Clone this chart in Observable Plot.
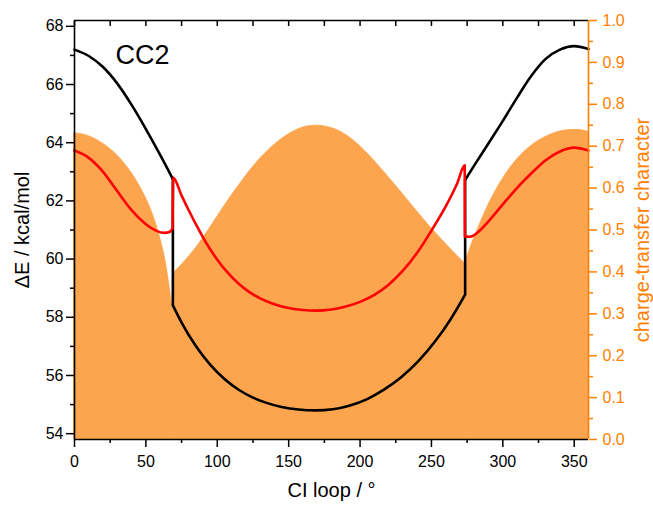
<!DOCTYPE html>
<html>
<head>
<meta charset="utf-8">
<script src="https://cdn.jsdelivr.net/npm/d3@7"></script>
<script src="https://cdn.jsdelivr.net/npm/@observablehq/plot@0.6"></script>
<style>
  body { margin: 0; background: #fff; }
  #chart svg { display: block; }
</style>
</head>
<body>
<div id="chart"></div>
<script>
// Excitation energies along the conical-intersection loop (CC2).
// A repeated angle marks a discontinuity (the curve jumps at that angle).
const s1Angle  = [0, 10, 20, 30, 40, 50, 60, 68.9,
                  68.9, 75, 85, 95, 105, 115, 125, 135, 145, 157, 169, 181, 193, 205, 217, 229, 241, 253, 263, 273.6,
                  273.6, 280, 290, 300, 310, 320, 330, 340, 350, 360];
const s1Energy = [67.2, 66.98, 66.6, 66.03, 65.3, 64.47, 63.58, 62.75,
                  58.41, 57.82, 57.01, 56.37, 55.88, 55.51, 55.24, 55.05, 54.92, 54.83, 54.8, 54.84, 54.97, 55.19, 55.52, 55.95, 56.5, 57.2, 57.9, 58.78,
                  62.72, 63.22, 63.98, 64.75, 65.55, 66.3, 66.88, 67.2, 67.32, 67.22];

const s2Angle  = [0, 10, 20, 30, 40, 50, 57, 63, 66.5, 68.6,
                  69.1, 75, 80, 85, 90, 95, 100, 107, 115, 122, 130, 140, 150, 160, 169, 180, 190, 200, 210, 220, 230, 240, 250, 260, 268, 273.3,
                  273.4, 277, 282, 290, 300, 310, 320, 330, 340, 350, 360];
const s2Energy = [63.73, 63.48, 63.0, 62.33, 61.68, 61.2, 60.98, 60.9, 60.93, 61.05,
                  62.8, 62.18, 61.68, 61.2, 60.75, 60.34, 59.98, 59.55, 59.15, 58.88, 58.65, 58.45, 58.32, 58.25, 58.23, 58.27, 58.37, 58.53, 58.77, 59.12, 59.6, 60.22, 60.98, 61.81, 62.6, 63.22,
                  60.78, 60.77, 60.9, 61.3, 61.88, 62.45, 62.95, 63.4, 63.7, 63.83, 63.73];

// Charge-transfer character (right axis)
const ctAngle = [0, 10, 20, 30, 40, 48, 54, 58, 61, 63.5, 65.5, 67.2, 68.4, 69,
                 69, 76, 84, 92, 100, 108, 116, 124, 132, 140, 148, 156, 163, 170, 177, 185, 193, 201, 209, 217, 225, 233, 241, 249, 257, 265, 273.5,
                 273.5, 275, 277.5, 280, 285, 290, 295, 300, 307, 315, 322, 330, 338, 345, 352, 360];
const ctValue = [0.731, 0.724, 0.706, 0.678, 0.636, 0.59, 0.545, 0.505, 0.468, 0.43, 0.39, 0.35, 0.325, 0.32,
                 0.395, 0.42, 0.452, 0.49, 0.531, 0.572, 0.61, 0.646, 0.677, 0.703, 0.724, 0.739, 0.747, 0.749, 0.746, 0.737, 0.72, 0.697, 0.669, 0.638, 0.606, 0.573, 0.54, 0.508, 0.478, 0.449, 0.42,
                 0.42, 0.435, 0.459, 0.481, 0.522, 0.56, 0.593, 0.622, 0.656, 0.686, 0.706, 0.722, 0.733, 0.738, 0.739, 0.734];

// Axis ticks
const energyTicks = [54, 56, 58, 60, 62, 64, 66, 68];
const energyMinor = [55, 57, 59, 61, 63, 65, 67];
const angleTicks  = [0, 50, 100, 150, 200, 250, 300, 350];
const angleMinor  = [25, 75, 125, 175, 225, 275, 325];
const ctTicks     = [0, 0.1, 0.2, 0.3, 0.4, 0.5, 0.6, 0.7, 0.8, 0.9, 1.0];
const ctMinor     = [0.05, 0.15, 0.25, 0.35, 0.45, 0.55, 0.65, 0.75, 0.85, 0.95];

const E0 = 53.8, E1 = 68.2;                 // left-axis extent
const toE = (c) => E0 + c * (E1 - E0);      // right axis (0..1) onto the left scale
const fromE = (e) => (e - E0) / (E1 - E0);

const AXIS_ORANGE = "#FF8000";
const FILL_ORANGE = "#FDA54E";

// Split a series into continuous pieces at repeated angles
function pieces(xs, ys, map = (v) => v) {
  let seg = 0;
  return xs.map((x, i) => {
    if (i > 0 && x === xs[i - 1]) seg++;
    return {x, y: map(ys[i]), seg};
  });
}
// Connectors between consecutive pieces (the jumps)
function jumps(rows) {
  const out = [];
  for (let i = 1; i < rows.length; i++) {
    if (rows[i].seg !== rows[i - 1].seg && rows[i].y !== rows[i - 1].y) {
      out.push({x1: rows[i - 1].x, y1: rows[i - 1].y, x2: rows[i].x, y2: rows[i].y});
    }
  }
  return out;
}

const s1 = pieces(s1Angle, s1Energy);
const s2 = pieces(s2Angle, s2Energy);
const ct = pieces(ctAngle, ctValue, toE);

const chart = Plot.plot({
  width: 653,
  height: 505,
  marginLeft: 74,
  marginRight: 65,
  marginTop: 20,
  marginBottom: 66,
  style: {fontFamily: "'Liberation Sans', Arial, sans-serif", fontSize: "16px", background: "#fff", color: "#000"},
  x: {domain: [0, 360]},
  y: {domain: [E0, E1]},
  marks: [
    Plot.areaY(ct, {x: "x", y1: () => E0, y2: "y", z: "seg", fill: FILL_ORANGE, stroke: FILL_ORANGE, strokeWidth: 0.8, curve: "monotone-x"}),

    Plot.line(s1, {x: "x", y: "y", z: "seg", stroke: "#000", strokeWidth: 2.6, curve: "monotone-x"}),
    Plot.link(jumps(s1), {x1: "x1", y1: "y1", x2: "x2", y2: "y2", stroke: "#000", strokeWidth: 2.6}),
    Plot.line(s2, {x: "x", y: "y", z: "seg", stroke: "#FF0000", strokeWidth: 2.6, curve: "monotone-x"}),
    Plot.link(jumps(s2), {x1: "x1", y1: "y1", x2: "x2", y2: "y2", stroke: "#FF0000", strokeWidth: 2.6}),

    // frame
    Plot.ruleY([E0], {stroke: "#000", strokeWidth: 1.6}),
    Plot.ruleY([E1], {stroke: "#000", strokeWidth: 1.6}),
    Plot.ruleX([0], {stroke: "#000", strokeWidth: 1.6}),
    Plot.ruleX([360], {stroke: AXIS_ORANGE, strokeWidth: 1.6}),

    // bottom axis
    Plot.axisX(angleTicks, {anchor: "bottom", tickSize: 8, tickPadding: 8, strokeWidth: 1.5, label: null, fontSize: 16}),
    Plot.axisX(angleMinor, {anchor: "bottom", tickSize: 4, tickFormat: () => "", strokeWidth: 1.5, label: null}),
    // top axis: inward ticks only
    Plot.axisX([...angleTicks, ...angleMinor], {anchor: "top", tickSize: -5, tickFormat: () => "", strokeWidth: 1.5, label: null}),

    // left axis
    Plot.axisY(energyTicks, {anchor: "left", tickSize: 8, tickPadding: 3, strokeWidth: 1.5, label: null, fontSize: 16}),
    Plot.axisY(energyMinor, {anchor: "left", tickSize: 4, tickFormat: () => "", strokeWidth: 1.5, label: null}),

    // right axis (charge-transfer character)
    Plot.axisY(ctTicks.map(toE), {anchor: "right", tickSize: 8, tickPadding: 6, strokeWidth: 1.5, color: AXIS_ORANGE, label: null, fontSize: 16,
      tickFormat: (d) => fromE(d).toFixed(1)}),
    Plot.axisY(ctMinor.map(toE), {anchor: "right", tickSize: 4, tickFormat: () => "", strokeWidth: 1.5, color: AXIS_ORANGE, label: null}),

    // titles
    Plot.text(["CI loop / °"], {frameAnchor: "bottom", dy: 57, fontSize: 20, fill: "#000"}),
    Plot.text(["ΔE / kcal/mol"], {frameAnchor: "left", textAnchor: "middle", rotate: -90, dx: -52, fontSize: 20, fill: "#000"}),
    Plot.text(["charge-transfer character"], {frameAnchor: "right", textAnchor: "middle", rotate: -90, dx: 54, fontSize: 20, fill: AXIS_ORANGE}),
    Plot.text(["CC2"], {frameAnchor: "top-left", textAnchor: "start", lineAnchor: "top", dx: 41, dy: 24, fontSize: 27, fill: "#000"})
  ]
});

document.getElementById("chart").appendChild(chart);
</script>
</body>
</html>
